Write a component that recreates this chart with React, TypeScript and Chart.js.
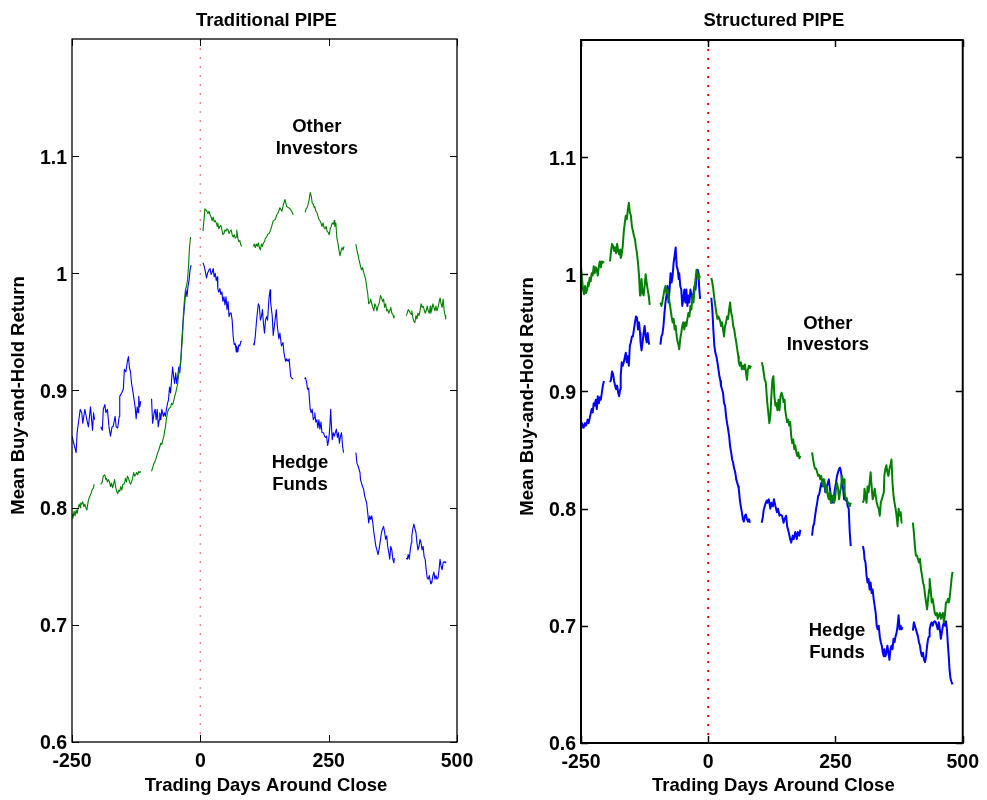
import React, { useEffect, useRef } from 'react';
import { Chart, registerables } from 'chart.js';

Chart.register(...registerables);

const xTicks = [-250, 0, 250, 500];
const yTicks = [0.6, 0.7, 0.8, 0.9, 1.0, 1.1];

// ---------- Traditional PIPE : Hedge Funds (blue) ----------
const tradHedgeDays = [
  -250, -242, -240, -234, -231, -229, -225, -221, -218, -214, -210, -208, -206,
  -200,
  -194, -191, -189, -186, -184, -181, -178, -175, -172, -170, -166, -164, -161, -158, -157, -153, -150, -148, -145, -142, -140, -138, -136, -134, -132, -129, -127, -125, -123, -121, -120, -118, -116,
  -105,
  -95, -93, -90, -88, -86, -84, -82, -80, -79, -77, -75, -72, -70, -68, -66, -64, -62, -60, -58, -56, -54, -52, -50, -48, -46, -44, -42, -40, -38, -36, -34, -32, -30, -28, -26, -24, -22, -20, -18, -17,
  -7,
  5, 7, 10, 12, 14, 17, 19, 21, 23, 25, 27, 29, 31, 33, 34, 36, 38, 40, 42, 44, 46, 48, 50, 52, 54, 56, 58, 60, 62, 64, 66, 68, 70, 71, 73, 75, 77, 79, 81,
  92,
  103, 105, 107, 109, 111, 113, 115, 117, 119, 121, 123, 125, 127, 129, 131, 133, 134, 136, 137, 140, 142, 145, 148, 150, 153, 155, 158, 161, 163, 166, 168, 171, 173, 176, 179, 181,
  192,
  203, 205, 207, 209, 211, 214, 216, 218, 220, 222, 223, 225, 227, 229, 231, 233, 235, 237, 240, 242, 244, 246, 248, 250, 252, 254, 255, 257, 259, 261, 263, 265, 267, 269, 271, 273, 275, 277, 279,
  291,
  303, 305, 307, 309, 311, 312, 314, 316, 318, 320, 322, 324, 326, 328, 330, 332, 334, 336, 338, 340, 342, 344, 346, 348, 349, 351, 353, 355, 357, 359, 361, 363, 365, 367, 369, 371, 373, 375, 377, 378,
  390,
  401, 403, 405, 407, 409, 411, 412, 414, 416, 418, 420, 422, 424, 426, 428, 430, 432, 434, 436, 438, 440, 442, 444, 446, 448, 449, 451, 453, 455, 457, 459, 461, 463, 465, 467, 469, 471, 473, 475, 477, 478,
];
const tradHedgeVals = [
  0.861, 0.847, 0.864, 0.884, 0.881, 0.872, 0.884, 0.875, 0.869, 0.886, 0.866, 0.881, 0.875,
  null,
  0.869, 0.866, 0.884, 0.888, 0.881, 0.884, 0.869, 0.861, 0.869, 0.869, 0.878, 0.869, 0.868, 0.878, 0.895, 0.898, 0.901, 0.918, 0.916, 0.925, 0.929, 0.919, 0.916, 0.906, 0.901, 0.892, 0.886, 0.876, 0.886, 0.881, 0.895, 0.886, 0.891,
  null,
  0.893, 0.872, 0.881, 0.884, 0.875, 0.884, 0.869, 0.875, 0.881, 0.875, 0.884, 0.878, 0.881, 0.878, 0.884, 0.889, 0.892, 0.903, 0.898, 0.909, 0.920, 0.912, 0.906, 0.915, 0.906, 0.912, 0.920, 0.915, 0.926, 0.943, 0.957, 0.966, 0.977, 0.986, 0.980, 0.989, 0.994, 1.003, 1.007, 1.007,
  null,
  1.009, 1.007, 1.001, 0.996, 1.0, 1.003, 1.004, 0.999, 1.001, 1.004, 0.997, 1.0, 0.994, 0.997, 0.987, 0.984, 0.987, 0.982, 0.984, 0.976, 0.980, 0.973, 0.980, 0.969, 0.976, 0.963, 0.966, 0.966, 0.960, 0.946, 0.939, 0.940, 0.933, 0.938, 0.933, 0.939, 0.938, 0.942, 0.942,
  null,
  0.940, 0.939, 0.946, 0.957, 0.966, 0.974, 0.972, 0.960, 0.963, 0.969, 0.957, 0.949, 0.960, 0.963, 0.960, 0.974, 0.980, 0.986, 0.975, 0.964, 0.947, 0.958, 0.969, 0.955, 0.944, 0.949, 0.938, 0.941, 0.932, 0.925, 0.927, 0.925, 0.927, 0.912, 0.910, 0.910,
  null,
  0.910, 0.911, 0.907, 0.901, 0.902, 0.884, 0.881, 0.884, 0.875, 0.877, 0.881, 0.873, 0.875, 0.868, 0.875, 0.867, 0.873, 0.864, 0.864, 0.861, 0.860, 0.861, 0.853, 0.858, 0.867, 0.884, 0.873, 0.858, 0.864, 0.861, 0.864, 0.867, 0.860, 0.864, 0.855, 0.861, 0.864, 0.853, 0.847,
  null,
  0.847, 0.838, 0.836, 0.833, 0.830, 0.824, 0.821, 0.818, 0.816, 0.810, 0.807, 0.804, 0.796, 0.787, 0.793, 0.790, 0.793, 0.787, 0.779, 0.773, 0.767, 0.764, 0.760, 0.764, 0.767, 0.773, 0.779, 0.782, 0.784, 0.779, 0.773, 0.776, 0.767, 0.762, 0.756, 0.767, 0.764, 0.756, 0.753, 0.757,
  null,
  0.757, 0.756, 0.760, 0.756, 0.764, 0.770, 0.776, 0.782, 0.786, 0.782, 0.779, 0.770, 0.764, 0.767, 0.773, 0.770, 0.764, 0.767, 0.758, 0.756, 0.747, 0.740, 0.739, 0.742, 0.737, 0.735, 0.736, 0.742, 0.745, 0.739, 0.742, 0.739, 0.740, 0.747, 0.756, 0.750, 0.747, 0.753, 0.754, 0.753, 0.754,
];

// ---------- Traditional PIPE : Other Investors (green) ----------
const tradOtherDays = [
  -250, -248, -246, -244, -242, -240, -238, -236, -234, -233, -231, -229, -227, -225, -223, -221, -219, -217, -215, -213, -211, -208, -207,
  -200,
  -194, -191, -189, -186, -184, -183, -181, -179, -177, -175, -173, -171, -169, -167, -165, -163, -161, -159, -157, -155, -153, -151, -149, -147, -146, -144, -142, -140, -138, -136, -134, -132, -130, -128, -126, -124, -122, -120, -118, -116,
  -105,
  -95, -93, -91, -89, -87, -85, -83, -81, -79, -77, -75, -73, -71, -70, -68, -66, -64, -62, -60, -58, -56, -54, -52, -50, -48, -46, -44, -42, -40, -38, -36, -34, -33, -31, -29, -27, -25, -23, -21, -19,
  -7,
  5, 7, 9, 11, 13, 15, 17, 19, 21, 23, 25, 27, 29, 31, 33, 34, 36, 38, 40, 42, 44, 46, 48, 50, 52, 54, 56, 58, 60, 62, 64, 66, 68, 70, 71, 73, 75, 77, 79, 81,
  92,
  103, 105, 107, 109, 111, 113, 115, 117, 119, 121, 123, 125, 127, 129, 131, 133, 134, 136, 139, 142, 146, 149, 152, 155, 159, 162, 165, 168, 172, 175, 178, 181,
  192,
  204, 206, 208, 210, 212, 214, 216, 218, 220, 222, 223, 225, 227, 229, 231, 233, 235, 237, 239, 241, 243, 245, 247, 249, 251, 253, 255, 257, 259, 261, 262, 264, 266, 268, 270, 272, 274, 276, 278, 280,
  291,
  303, 305, 307, 309, 311, 312, 314, 316, 318, 320, 322, 324, 326, 328, 330, 332, 334, 336, 338, 340, 342, 344, 346, 348, 349, 351, 353, 355, 357, 359, 361, 363, 365, 367, 369, 371, 373, 375, 377, 378,
  390,
  401, 403, 405, 407, 409, 411, 412, 414, 416, 418, 420, 422, 424, 426, 428, 430, 432, 434, 436, 438, 440, 442, 444, 446, 448, 449, 451, 453, 455, 457, 459, 461, 463, 465, 467, 469, 471, 473, 475, 477, 478,
];
const tradOtherVals = [
  0.795, 0.791, 0.797, 0.793, 0.798, 0.795, 0.800, 0.803, 0.800, 0.804, 0.803, 0.805, 0.801, 0.803, 0.800, 0.798, 0.804, 0.808, 0.810, 0.812, 0.815, 0.817, 0.820,
  null,
  0.820, 0.822, 0.827, 0.828, 0.824, 0.825, 0.822, 0.824, 0.822, 0.818, 0.821, 0.817, 0.820, 0.824, 0.818, 0.814, 0.812, 0.815, 0.814, 0.818, 0.815, 0.820, 0.820, 0.822, 0.825, 0.822, 0.827, 0.825, 0.822, 0.820, 0.822, 0.825, 0.830, 0.827, 0.828, 0.830, 0.828, 0.831, 0.830, 0.831,
  null,
  0.831, 0.834, 0.837, 0.839, 0.841, 0.844, 0.847, 0.849, 0.852, 0.855, 0.854, 0.858, 0.861, 0.864, 0.869, 0.876, 0.881, 0.884, 0.885, 0.886, 0.889, 0.888, 0.891, 0.895, 0.898, 0.902, 0.906, 0.915, 0.920, 0.926, 0.938, 0.952, 0.966, 0.977, 0.986, 0.989, 0.994, 1.006, 1.023, 1.031,
  null,
  1.036, 1.045, 1.055, 1.054, 1.053, 1.051, 1.053, 1.050, 1.048, 1.045, 1.048, 1.044, 1.045, 1.043, 1.040, 1.043, 1.038, 1.040, 1.041, 1.037, 1.033, 1.034, 1.037, 1.036, 1.038, 1.037, 1.034, 1.036, 1.037, 1.033, 1.031, 1.033, 1.030, 1.031, 1.037, 1.030, 1.027, 1.028, 1.024, 1.023,
  null,
  1.023, 1.025, 1.022, 1.025, 1.023, 1.026, 1.022, 1.020, 1.025, 1.023, 1.026, 1.027, 1.030, 1.031, 1.033, 1.034, 1.034, 1.036, 1.040, 1.045, 1.046, 1.050, 1.052, 1.056, 1.053, 1.059, 1.063, 1.057, 1.056, 1.055, 1.053, 1.050,
  null,
  1.052, 1.055, 1.056, 1.059, 1.063, 1.069, 1.066, 1.060, 1.059, 1.056, 1.057, 1.053, 1.052, 1.049, 1.046, 1.045, 1.043, 1.040, 1.043, 1.039, 1.038, 1.040, 1.036, 1.035, 1.033, 1.038, 1.040, 1.043, 1.042, 1.045, 1.040, 1.043, 1.030, 1.026, 1.020, 1.015, 1.019, 1.022, 1.020, 1.023,
  null,
  1.025, 1.020, 1.016, 1.012, 1.008, 1.006, 1.003, 1.005, 1.001, 0.998, 0.995, 0.989, 0.983, 0.974, 0.975, 0.978, 0.974, 0.971, 0.968, 0.974, 0.972, 0.968, 0.972, 0.974, 0.976, 0.981, 0.979, 0.976, 0.978, 0.971, 0.974, 0.968, 0.969, 0.966, 0.968, 0.971, 0.966, 0.965, 0.962, 0.964,
  null,
  0.964, 0.966, 0.969, 0.968, 0.966, 0.965, 0.968, 0.962, 0.959, 0.958, 0.964, 0.961, 0.966, 0.964, 0.968, 0.974, 0.971, 0.972, 0.969, 0.966, 0.968, 0.972, 0.968, 0.966, 0.972, 0.966, 0.969, 0.974, 0.971, 0.968, 0.972, 0.968, 0.971, 0.975, 0.979, 0.974, 0.971, 0.978, 0.968, 0.964, 0.961,
];

// ---------- Structured PIPE : Hedge Funds (blue) ----------
const strHedgeDays = [
  -250, -248, -245, -242, -240, -237, -235, -232, -229, -227, -225, -223, -221, -219, -217, -215, -213, -211, -209, -207, -205,
  -199,
  -193, -191, -189, -187, -185, -183, -181, -179, -177, -175, -173, -172, -170, -168, -166, -164, -162, -160, -158, -156, -154, -152, -150, -148, -146, -144, -142, -140, -138, -136, -134, -133, -131, -129, -127, -125, -123, -121, -119, -117, -116,
  -105,
  -94, -92, -90, -88, -86, -84, -82, -80, -78, -76, -74, -72, -70, -68, -66, -64, -62, -60, -58, -57, -55, -53, -51, -49, -47, -45, -43, -41, -39, -37, -35, -33, -31, -29, -27, -25, -23, -21, -19, -18, -16,
  -5,
  6, 8, 10, 12, 14, 16, 18, 20, 22, 24, 25, 27, 29, 31, 33, 35, 37, 39, 41, 43, 45, 47, 49, 51, 53, 55, 57, 59, 60, 62, 64, 66, 68, 70, 72, 74, 76, 78, 80, 82,
  94,
  105, 107, 109, 111, 113, 115, 116, 119, 122, 124, 127, 129, 132, 135, 137, 140, 142, 145, 148, 150, 153, 155, 158, 161, 163, 166, 168, 171, 174, 176, 179, 181,
  192,
  204, 206, 208, 210, 212, 214, 216, 218, 220, 222, 224, 226, 228, 230, 231, 233, 235, 237, 239, 241, 243, 245, 247, 249, 251, 253, 255, 257, 259, 261, 263, 265, 267, 268, 270, 272, 274, 276, 278, 280,
  292,
  304, 306, 307, 309, 311, 313, 315, 317, 319, 321, 323, 325, 327, 329, 331, 333, 335, 337, 339, 341, 343, 345, 346, 348, 350, 352, 354, 356, 358, 360, 362, 364, 366, 368, 370, 372, 374, 376, 378, 380, 381,
  391,
  402, 404, 406, 408, 410, 412, 414, 416, 418, 420, 422, 424, 426, 428, 430, 432, 434, 435, 437, 439, 441, 443, 445, 447, 449, 451, 453, 455, 457, 459, 461, 463, 465, 467, 469, 471, 473, 474, 476, 478, 480,
];
const strHedgeVals = [
  0.868, 0.873, 0.869, 0.873, 0.871, 0.876, 0.873, 0.879, 0.885, 0.882, 0.890, 0.888, 0.893, 0.885, 0.896, 0.890, 0.895, 0.893, 0.899, 0.905, 0.909,
  null,
  0.908, 0.910, 0.917, 0.915, 0.909, 0.905, 0.902, 0.905, 0.899, 0.896, 0.902, 0.913, 0.925, 0.922, 0.925, 0.929, 0.933, 0.925, 0.930, 0.922, 0.939, 0.942, 0.947, 0.947, 0.953, 0.959, 0.964, 0.963, 0.953, 0.959, 0.950, 0.942, 0.935, 0.942, 0.950, 0.956, 0.947, 0.942, 0.950, 0.942, 0.940,
  null,
  0.940, 0.947, 0.949, 0.956, 0.967, 0.976, 0.982, 0.990, 0.976, 0.987, 1.001, 0.993, 0.999, 1.010, 1.016, 1.023, 1.007, 1.004, 0.996, 1.001, 0.990, 0.987, 0.973, 0.979, 0.987, 0.976, 0.987, 0.973, 0.982, 0.976, 0.987, 0.982, 0.979, 0.984, 0.990, 0.987, 0.999, 1.004, 1.001, 0.990, 0.979,
  null,
  0.980, 0.970, 0.953, 0.939, 0.933, 0.930, 0.925, 0.919, 0.913, 0.909, 0.905, 0.902, 0.899, 0.890, 0.888, 0.879, 0.873, 0.868, 0.862, 0.853, 0.848, 0.842, 0.839, 0.834, 0.831, 0.825, 0.822, 0.819, 0.817, 0.808, 0.802, 0.797, 0.791, 0.789, 0.794, 0.795, 0.791, 0.789, 0.791, 0.788,
  null,
  0.788, 0.792, 0.799, 0.802, 0.805, 0.807, 0.805, 0.808, 0.800, 0.805, 0.802, 0.808, 0.802, 0.797, 0.800, 0.794, 0.795, 0.794, 0.788, 0.791, 0.794, 0.785, 0.780, 0.774, 0.771, 0.777, 0.774, 0.780, 0.774, 0.780, 0.777, 0.782,
  null,
  0.777, 0.785, 0.787, 0.794, 0.800, 0.805, 0.811, 0.812, 0.817, 0.822, 0.819, 0.825, 0.822, 0.814, 0.817, 0.819, 0.822, 0.825, 0.817, 0.811, 0.805, 0.808, 0.811, 0.817, 0.822, 0.828, 0.831, 0.834, 0.835, 0.831, 0.822, 0.817, 0.808, 0.811, 0.807, 0.808, 0.802, 0.800, 0.780, 0.768,
  null,
  0.768, 0.763, 0.757, 0.754, 0.743, 0.737, 0.740, 0.731, 0.737, 0.728, 0.731, 0.723, 0.717, 0.711, 0.700, 0.697, 0.700, 0.691, 0.686, 0.683, 0.677, 0.674, 0.680, 0.674, 0.677, 0.683, 0.677, 0.671, 0.680, 0.683, 0.680, 0.689, 0.686, 0.691, 0.694, 0.700, 0.709, 0.697, 0.700, 0.697, 0.699,
  null,
  0.696, 0.703, 0.700, 0.697, 0.694, 0.691, 0.686, 0.683, 0.677, 0.674, 0.677, 0.671, 0.669, 0.674, 0.683, 0.689, 0.691, 0.697, 0.701, 0.703, 0.700, 0.703, 0.704, 0.703, 0.700, 0.697, 0.703, 0.697, 0.689, 0.694, 0.700, 0.703, 0.700, 0.704, 0.697, 0.683, 0.671, 0.663, 0.655, 0.652, 0.650,
];

// ---------- Structured PIPE : Other Investors (green) ----------
const strOtherDays = [
  -250, -248, -246, -244, -242, -240, -238, -236, -235, -233, -231, -229, -227, -225, -223, -221, -219, -217, -215, -213, -211, -209, -207, -205,
  -199,
  -193, -191, -189, -187, -185, -183, -181, -179, -177, -175, -173, -172, -170, -168, -166, -164, -162, -160, -158, -156, -154, -152, -150, -148, -146, -144, -142, -140, -138, -136, -134, -133, -131, -129, -127, -125, -123, -121, -119, -117, -115,
  -105,
  -94, -92, -90, -88, -86, -84, -82, -80, -78, -76, -74, -72, -70, -68, -66, -64, -62, -60, -58, -57, -55, -53, -51, -49, -47, -45, -43, -41, -39, -37, -35, -33, -31, -29, -27, -25, -23, -21, -19, -18, -16,
  -5,
  6, 8, 10, 12, 14, 16, 18, 20, 22, 24, 25, 27, 29, 31, 33, 35, 37, 39, 41, 43, 45, 47, 49, 51, 53, 55, 57, 59, 60, 62, 64, 66, 68, 70, 72, 74, 76, 78, 80, 82, 84,
  94,
  105, 107, 109, 111, 113, 114, 116, 118, 120, 122, 124, 126, 128, 130, 132, 134, 136, 138, 140, 142, 144, 146, 148, 150, 151, 153, 155, 157, 159, 161, 163, 165, 167, 169, 171, 173, 175, 177, 179, 181,
  192,
  204, 206, 208, 210, 212, 214, 216, 218, 220, 222, 224, 226, 228, 230, 231, 233, 235, 237, 239, 241, 243, 245, 247, 249, 251, 253, 255, 257, 259, 261, 263, 265, 267, 268, 270, 272, 274, 276, 278, 280,
  292,
  304, 306, 307, 309, 311, 313, 315, 317, 319, 321, 323, 325, 327, 329, 331, 333, 335, 337, 339, 341, 343, 345, 346, 348, 350, 352, 354, 356, 358, 360, 362, 364, 366, 368, 370, 372, 374, 376, 378, 380, 381,
  391,
  402, 404, 406, 408, 410, 412, 414, 416, 418, 420, 422, 424, 426, 428, 430, 432, 434, 435, 437, 439, 441, 443, 445, 447, 449, 451, 453, 455, 457, 459, 461, 463, 465, 467, 469, 471, 473, 474, 476, 478, 480,
];
const strOtherVals = [
  1.007, 0.996, 0.987, 0.983, 0.990, 0.984, 0.987, 0.993, 0.990, 0.997, 0.994, 1.001, 0.999, 1.007, 1.001, 1.006, 1.004, 0.999, 1.007, 1.011, 1.006, 1.011, 1.010, 1.011,
  null,
  1.011, 1.020, 1.026, 1.024, 1.020, 1.023, 1.018, 1.026, 1.020, 1.017, 1.021, 1.014, 1.017, 1.024, 1.036, 1.044, 1.050, 1.047, 1.055, 1.061, 1.053, 1.050, 1.041, 1.037, 1.033, 1.030, 1.023, 1.018, 1.010, 0.999, 0.982, 0.987, 0.996, 0.984, 0.982, 0.990, 1.000, 0.993, 0.987, 0.982, 0.974,
  null,
  0.976, 0.973, 0.977, 0.982, 0.987, 0.990, 0.984, 0.987, 0.982, 0.976, 0.970, 0.964, 0.959, 0.962, 0.953, 0.956, 0.947, 0.942, 0.939, 0.936, 0.945, 0.950, 0.956, 0.959, 0.953, 0.959, 0.956, 0.962, 0.967, 0.964, 0.973, 0.970, 0.982, 0.976, 0.987, 0.996, 1.004, 1.001, 0.996, 0.999, 0.997,
  null,
  0.997, 0.993, 0.987, 0.979, 0.973, 0.967, 0.962, 0.964, 0.962, 0.959, 0.956, 0.959, 0.953, 0.947, 0.956, 0.959, 0.964, 0.962, 0.970, 0.976, 0.967, 0.964, 0.956, 0.953, 0.947, 0.942, 0.936, 0.930, 0.925, 0.922, 0.925, 0.919, 0.922, 0.919, 0.923, 0.917, 0.910, 0.919, 0.922, 0.920, 0.922,
  null,
  0.925, 0.922, 0.916, 0.910, 0.908, 0.902, 0.890, 0.882, 0.873, 0.879, 0.896, 0.910, 0.913, 0.896, 0.888, 0.890, 0.884, 0.893, 0.884, 0.896, 0.899, 0.896, 0.891, 0.893, 0.885, 0.879, 0.874, 0.876, 0.871, 0.874, 0.862, 0.856, 0.859, 0.851, 0.854, 0.848, 0.845, 0.848, 0.843, 0.845,
  null,
  0.848, 0.842, 0.837, 0.834, 0.834, 0.831, 0.828, 0.829, 0.825, 0.828, 0.822, 0.819, 0.825, 0.817, 0.814, 0.819, 0.811, 0.808, 0.814, 0.805, 0.808, 0.811, 0.805, 0.808, 0.817, 0.822, 0.817, 0.808, 0.814, 0.819, 0.828, 0.822, 0.825, 0.814, 0.808, 0.809, 0.805, 0.805, 0.802, 0.805,
  null,
  0.805, 0.808, 0.817, 0.811, 0.805, 0.819, 0.814, 0.822, 0.831, 0.819, 0.808, 0.811, 0.817, 0.811, 0.805, 0.802, 0.800, 0.794, 0.805, 0.808, 0.811, 0.814, 0.828, 0.834, 0.837, 0.831, 0.828, 0.834, 0.837, 0.842, 0.822, 0.811, 0.805, 0.800, 0.794, 0.785, 0.800, 0.794, 0.797, 0.788, 0.788,
  null,
  0.788, 0.780, 0.768, 0.760, 0.760, 0.757, 0.754, 0.757, 0.748, 0.743, 0.737, 0.734, 0.726, 0.720, 0.714, 0.723, 0.731, 0.740, 0.731, 0.720, 0.723, 0.717, 0.711, 0.709, 0.711, 0.706, 0.709, 0.711, 0.706, 0.709, 0.711, 0.703, 0.709, 0.720, 0.720, 0.723, 0.720, 0.723, 0.731, 0.740, 0.746,
];

const BLUE = '#0000ff';
const GREEN = '#008000';
const FONT = '"Liberation Sans", Arial, Helvetica, sans-serif';

type Note = { text: string; x: number; y: number };

function toPoints(days: number[], vals: (number | null)[]) {
  return days.map((d, i) => ({ x: d, y: vals[i] }));
}

const framePlugin = {
  id: 'frame',
  afterDatasetsDraw(chart: any, _args: any, opts: any) {
    const { ctx, chartArea: a, scales } = chart;
    const x = scales.x;
    const y = scales.y;
    ctx.save();
    // box
    ctx.strokeStyle = '#000';
    ctx.lineWidth = opts.frameWidth;
    ctx.strokeRect(a.left, a.top, a.right - a.left, a.bottom - a.top);
    // inward ticks on all four sides
    ctx.lineWidth = opts.tickWidth;
    ctx.beginPath();
    const tl = 7;
    for (const t of xTicks) {
      const px = Math.round(x.getPixelForValue(t)) + 0.5;
      ctx.moveTo(px, a.bottom);
      ctx.lineTo(px, a.bottom - tl);
      ctx.moveTo(px, a.top);
      ctx.lineTo(px, a.top + tl);
    }
    for (const t of yTicks) {
      const py = Math.round(y.getPixelForValue(t)) + 0.5;
      ctx.moveTo(a.left, py);
      ctx.lineTo(a.left + tl, py);
      ctx.moveTo(a.right, py);
      ctx.lineTo(a.right - tl, py);
    }
    ctx.stroke();

    ctx.fillStyle = '#000';
    ctx.textAlign = 'center';
    // annotations
    ctx.font = `bold 18.5px ${FONT}`;
    ctx.textBaseline = 'middle';
    (opts.notes as Note[]).forEach((n) => {
      ctx.fillText(n.text, x.getPixelForValue(n.x), y.getPixelForValue(n.y));
    });
    // title
    ctx.textBaseline = 'alphabetic';
    ctx.fillText(opts.title, (a.left + a.right) / 2 + 2, 26);
    // x axis label
    ctx.fillText('Trading Days Around Close', (a.left + a.right) / 2 + 1.5, 791);
    // y axis label
    ctx.translate(a.left - 53.5, (a.top + a.bottom) / 2 + 5);
    ctx.rotate(-Math.PI / 2);
    ctx.textBaseline = 'middle';
    ctx.fillText('Mean Buy-and-Hold Return', 0, 0);
    ctx.restore();
  },
};

type PanelProps = {
  left: number;
  width: number;
  padTop: number;
  padRight: number;
  yWidth: number;
  xHeight: number;
  title: string;
  hedge: { x: number; y: number | null }[];
  other: { x: number; y: number | null }[];
  lineWidth: number;
  zeroColor: string;
  zeroWidth: number;
  frameWidth: number;
  notes: Note[];
};

function Panel(p: PanelProps) {
  const ref = useRef<HTMLCanvasElement | null>(null);
  useEffect(() => {
    if (!ref.current) return;
    const tickFont = { family: FONT, size: 19.5, weight: 'bold' as const };
    const chart = new Chart(ref.current, {
      type: 'line',
      data: {
        datasets: [
          {
            data: [
              { x: 0, y: 1.2 },
              { x: 0, y: 0.6 },
            ],
            borderColor: p.zeroColor,
            borderWidth: p.zeroWidth,
            borderDash: [2, 7],
            pointRadius: 0,
          },
          {
            data: p.other,
            borderColor: GREEN,
            borderWidth: p.lineWidth,
            pointRadius: 0,
            spanGaps: false,
          },
          {
            data: p.hedge,
            borderColor: BLUE,
            borderWidth: p.lineWidth,
            pointRadius: 0,
            spanGaps: false,
          },
        ],
      },
      options: {
        responsive: false,
        animation: false,
        devicePixelRatio: 1,
        parsing: false,
        normalized: true,
        events: [],
        layout: { padding: { top: p.padTop, right: p.padRight, left: 0, bottom: 0 } },
        elements: { line: { tension: 0, borderJoinStyle: 'round' } },
        plugins: {
          legend: { display: false },
          tooltip: { enabled: false },
          title: { display: false },
          frame: {
            title: p.title,
            notes: p.notes,
            frameWidth: p.frameWidth,
            tickWidth: p.frameWidth > 1.5 ? 1.5 : 1,
          },
        } as any,
        scales: {
          x: {
            type: 'linear',
            min: -250,
            max: 500,
            grid: { display: false, drawTicks: false },
            border: { display: false },
            ticks: { font: tickFont, color: '#000', padding: 8, maxRotation: 0, autoSkip: false },
            afterBuildTicks: (s: any) => {
              s.ticks = xTicks.map((v) => ({ value: v }));
            },
            afterFit: (s: any) => {
              s.height = p.xHeight;
            },
          },
          y: {
            type: 'linear',
            min: 0.6,
            max: 1.2,
            grid: { display: false, drawTicks: false },
            border: { display: false },
            ticks: {
              font: tickFont,
              color: '#000',
              padding: 5,
              labelOffset: 2,
              autoSkip: false,
              callback: (v: any) => String(Math.round(Number(v) * 10) / 10),
            },
            afterBuildTicks: (s: any) => {
              s.ticks = yTicks.map((v) => ({ value: v }));
            },
            afterFit: (s: any) => {
              s.width = p.yWidth;
            },
          },
        },
      },
      plugins: [framePlugin],
    } as any);
    return () => chart.destroy();
  }, []);
  return (
    <canvas
      ref={ref}
      width={p.width}
      height={800}
      style={{ position: 'absolute', left: p.left, top: 0, width: p.width, height: 800, display: 'block' }}
    />
  );
}

export default function App() {
  return (
    <div style={{ position: 'absolute', left: 0, top: 0, width: 987, height: 800, background: '#fff' }}>
      <Panel
        left={0}
        width={493}
        padTop={39}
        padRight={36}
        yWidth={72}
        xHeight={58}
        title="Traditional PIPE"
        hedge={toPoints(tradHedgeDays, tradHedgeVals)}
        other={toPoints(tradOtherDays, tradOtherVals)}
        lineWidth={1.1}
        zeroColor="#ff8080"
        zeroWidth={1.4}
        frameWidth={1.3}
        notes={[
          { text: 'Other', x: 227, y: 1.125 },
          { text: 'Investors', x: 227, y: 1.106 },
          { text: 'Hedge', x: 194, y: 0.838 },
          { text: 'Funds', x: 194, y: 0.819 },
        ]}
      />
      <Panel
        left={493}
        width={494}
        padTop={40}
        padRight={21}
        yWidth={88}
        xHeight={57}
        title="Structured PIPE"
        hedge={toPoints(strHedgeDays, strHedgeVals)}
        other={toPoints(strOtherDays, strOtherVals)}
        lineWidth={2}
        zeroColor="#ff0000"
        zeroWidth={2}
        frameWidth={2}
        notes={[
          { text: 'Other', x: 235, y: 0.958 },
          { text: 'Investors', x: 235, y: 0.94 },
          { text: 'Hedge', x: 253, y: 0.696 },
          { text: 'Funds', x: 253, y: 0.677 },
        ]}
      />
    </div>
  );
}
